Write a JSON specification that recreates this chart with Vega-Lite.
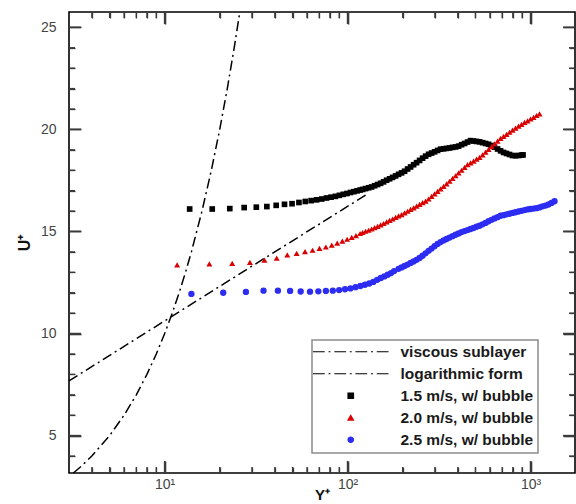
{
  "$schema": "https://vega.github.io/schema/vega-lite/v6.json",
  "width": 506,
  "height": 461,
  "autosize": {"type": "none"},
  "padding": {"left": 69, "top": 12, "right": 1, "bottom": 31},
  "background": "white",
  "config": {
    "view": {"stroke": "#000", "strokeWidth": 1.6},
    "font": "Liberation Sans",
    "axis": {"labelFont": "Liberation Sans", "labelFontSize": 14, "labelColor": "#444", "titleFont": "Liberation Sans", "titleFontWeight": "bold", "titleColor": "#111", "grid": false, "domain": false}
  },
  "datasets": {
    "viscous": [
      {"Yplus": 3.17, "Uplus": 3.17}, {"Yplus": 3.5, "Uplus": 3.5}, {"Yplus": 4, "Uplus": 4}, {"Yplus": 5, "Uplus": 5},
      {"Yplus": 6, "Uplus": 6}, {"Yplus": 7, "Uplus": 7}, {"Yplus": 8, "Uplus": 8}, {"Yplus": 9, "Uplus": 9},
      {"Yplus": 10, "Uplus": 10}, {"Yplus": 11, "Uplus": 11}, {"Yplus": 12, "Uplus": 12}, {"Yplus": 13, "Uplus": 13},
      {"Yplus": 14, "Uplus": 14}, {"Yplus": 16, "Uplus": 16}, {"Yplus": 18, "Uplus": 18}, {"Yplus": 20, "Uplus": 20},
      {"Yplus": 22, "Uplus": 22}, {"Yplus": 24, "Uplus": 24}, {"Yplus": 25.7, "Uplus": 25.7}
    ],
    "loglaw": [
      {"Yplus": 3, "Uplus": 7.68}, {"Yplus": 10, "Uplus": 10.62}, {"Yplus": 30, "Uplus": 13.30}, {"Yplus": 128, "Uplus": 16.83}
    ],
    "xMajor": [{"v": 10}, {"v": 100}, {"v": 1000}],
    "xMinor": [{"v": 4}, {"v": 5}, {"v": 6}, {"v": 7}, {"v": 8}, {"v": 9},
               {"v": 20}, {"v": 30}, {"v": 40}, {"v": 50}, {"v": 60}, {"v": 70}, {"v": 80}, {"v": 90},
               {"v": 200}, {"v": 300}, {"v": 400}, {"v": 500}, {"v": 600}, {"v": 700}, {"v": 800}, {"v": 900}],
    "yMajor": [{"v": 5}, {"v": 10}, {"v": 15}, {"v": 20}, {"v": 25}],
    "yMinor": [{"v": 4}, {"v": 6}, {"v": 7}, {"v": 8}, {"v": 9}, {"v": 11}, {"v": 12}, {"v": 13}, {"v": 14},
               {"v": 16}, {"v": 17}, {"v": 18}, {"v": 19}, {"v": 21}, {"v": 22}, {"v": 23}, {"v": 24}],
    "s15": [
      {"Yplus": 13.7, "Uplus": 16.10}, {"Yplus": 18.2, "Uplus": 16.10}, {"Yplus": 22.7, "Uplus": 16.12}, {"Yplus": 27.2, "Uplus": 16.17},
      {"Yplus": 31.7, "Uplus": 16.19}, {"Yplus": 36.2, "Uplus": 16.22}, {"Yplus": 40.7, "Uplus": 16.28}, {"Yplus": 45.2, "Uplus": 16.33},
      {"Yplus": 49.7, "Uplus": 16.36}, {"Yplus": 54.2, "Uplus": 16.42}, {"Yplus": 58.7, "Uplus": 16.47}, {"Yplus": 63.2, "Uplus": 16.51},
      {"Yplus": 67.7, "Uplus": 16.55}, {"Yplus": 72.2, "Uplus": 16.59}, {"Yplus": 76.7, "Uplus": 16.64}, {"Yplus": 81.2, "Uplus": 16.68},
      {"Yplus": 85.7, "Uplus": 16.72}, {"Yplus": 90.2, "Uplus": 16.77}, {"Yplus": 94.7, "Uplus": 16.82}, {"Yplus": 99.2, "Uplus": 16.86},
      {"Yplus": 103.7, "Uplus": 16.91}, {"Yplus": 108.2, "Uplus": 16.95}, {"Yplus": 112.7, "Uplus": 16.99}, {"Yplus": 117.2, "Uplus": 17.03},
      {"Yplus": 120.8, "Uplus": 17.06}, {"Yplus": 125.4, "Uplus": 17.10}, {"Yplus": 130.3, "Uplus": 17.14}, {"Yplus": 135.3, "Uplus": 17.18},
      {"Yplus": 140.5, "Uplus": 17.24}, {"Yplus": 145.9, "Uplus": 17.30}, {"Yplus": 151.5, "Uplus": 17.36}, {"Yplus": 157.3, "Uplus": 17.43},
      {"Yplus": 163.4, "Uplus": 17.51}, {"Yplus": 169.7, "Uplus": 17.58}, {"Yplus": 176.2, "Uplus": 17.65}, {"Yplus": 183.0, "Uplus": 17.72},
      {"Yplus": 190.0, "Uplus": 17.80}, {"Yplus": 197.3, "Uplus": 17.87}, {"Yplus": 204.9, "Uplus": 17.95}, {"Yplus": 212.8, "Uplus": 18.06},
      {"Yplus": 221.0, "Uplus": 18.16}, {"Yplus": 229.5, "Uplus": 18.27}, {"Yplus": 238.3, "Uplus": 18.37}, {"Yplus": 247.5, "Uplus": 18.48},
      {"Yplus": 257.0, "Uplus": 18.59}, {"Yplus": 266.9, "Uplus": 18.69}, {"Yplus": 277.2, "Uplus": 18.78}, {"Yplus": 287.8, "Uplus": 18.84},
      {"Yplus": 298.9, "Uplus": 18.90}, {"Yplus": 310.4, "Uplus": 18.97}, {"Yplus": 322.3, "Uplus": 19.03}, {"Yplus": 334.7, "Uplus": 19.05},
      {"Yplus": 347.6, "Uplus": 19.07}, {"Yplus": 361.0, "Uplus": 19.09}, {"Yplus": 374.9, "Uplus": 19.12}, {"Yplus": 389.3, "Uplus": 19.14},
      {"Yplus": 404.3, "Uplus": 19.18}, {"Yplus": 419.8, "Uplus": 19.25}, {"Yplus": 436.0, "Uplus": 19.31}, {"Yplus": 452.7, "Uplus": 19.38},
      {"Yplus": 470.1, "Uplus": 19.45}, {"Yplus": 488.2, "Uplus": 19.43}, {"Yplus": 507.0, "Uplus": 19.41}, {"Yplus": 526.5, "Uplus": 19.39},
      {"Yplus": 546.8, "Uplus": 19.35}, {"Yplus": 567.8, "Uplus": 19.31}, {"Yplus": 589.6, "Uplus": 19.27}, {"Yplus": 612.3, "Uplus": 19.21},
      {"Yplus": 635.8, "Uplus": 19.13}, {"Yplus": 660.3, "Uplus": 19.04}, {"Yplus": 685.7, "Uplus": 18.95}, {"Yplus": 712.0, "Uplus": 18.87},
      {"Yplus": 739.4, "Uplus": 18.82}, {"Yplus": 767.8, "Uplus": 18.77}, {"Yplus": 797.4, "Uplus": 18.72}, {"Yplus": 828.0, "Uplus": 18.71},
      {"Yplus": 859.9, "Uplus": 18.72}, {"Yplus": 892.9, "Uplus": 18.74}, {"Yplus": 910.0, "Uplus": 18.75}
    ],
    "s20": [
      {"Yplus": 11.7, "Uplus": 13.36}, {"Yplus": 17.55, "Uplus": 13.41}, {"Yplus": 23.4, "Uplus": 13.44}, {"Yplus": 29.25, "Uplus": 13.49},
      {"Yplus": 35.1, "Uplus": 13.60}, {"Yplus": 40.95, "Uplus": 13.69}, {"Yplus": 46.8, "Uplus": 13.85}, {"Yplus": 52.65, "Uplus": 13.93},
      {"Yplus": 58.5, "Uplus": 14.01}, {"Yplus": 64.35, "Uplus": 14.08}, {"Yplus": 70.2, "Uplus": 14.17}, {"Yplus": 76.05, "Uplus": 14.24},
      {"Yplus": 81.9, "Uplus": 14.33}, {"Yplus": 87.75, "Uplus": 14.43}, {"Yplus": 93.6, "Uplus": 14.53}, {"Yplus": 99.45, "Uplus": 14.62},
      {"Yplus": 105.3, "Uplus": 14.71}, {"Yplus": 111.15, "Uplus": 14.80}, {"Yplus": 117.0, "Uplus": 14.90},
      {"Yplus": 120.8, "Uplus": 14.95}, {"Yplus": 125.4, "Uplus": 15.01}, {"Yplus": 130.3, "Uplus": 15.06}, {"Yplus": 135.3, "Uplus": 15.12},
      {"Yplus": 140.5, "Uplus": 15.19}, {"Yplus": 145.9, "Uplus": 15.25}, {"Yplus": 151.5, "Uplus": 15.32}, {"Yplus": 157.3, "Uplus": 15.39},
      {"Yplus": 163.4, "Uplus": 15.47}, {"Yplus": 169.7, "Uplus": 15.54}, {"Yplus": 176.2, "Uplus": 15.61}, {"Yplus": 183.0, "Uplus": 15.69},
      {"Yplus": 190.0, "Uplus": 15.76}, {"Yplus": 197.3, "Uplus": 15.83}, {"Yplus": 204.9, "Uplus": 15.91}, {"Yplus": 212.8, "Uplus": 15.99},
      {"Yplus": 221.0, "Uplus": 16.08}, {"Yplus": 229.5, "Uplus": 16.16}, {"Yplus": 238.3, "Uplus": 16.24}, {"Yplus": 247.5, "Uplus": 16.33},
      {"Yplus": 257.0, "Uplus": 16.41}, {"Yplus": 266.9, "Uplus": 16.49}, {"Yplus": 277.2, "Uplus": 16.59}, {"Yplus": 287.8, "Uplus": 16.72},
      {"Yplus": 298.9, "Uplus": 16.84}, {"Yplus": 310.4, "Uplus": 16.96}, {"Yplus": 322.3, "Uplus": 17.09}, {"Yplus": 334.7, "Uplus": 17.21},
      {"Yplus": 347.6, "Uplus": 17.33}, {"Yplus": 361.0, "Uplus": 17.46}, {"Yplus": 374.9, "Uplus": 17.60}, {"Yplus": 389.3, "Uplus": 17.73},
      {"Yplus": 404.3, "Uplus": 17.87}, {"Yplus": 419.8, "Uplus": 18.00}, {"Yplus": 436.0, "Uplus": 18.14}, {"Yplus": 452.7, "Uplus": 18.27},
      {"Yplus": 470.1, "Uplus": 18.36}, {"Yplus": 488.2, "Uplus": 18.45}, {"Yplus": 507.0, "Uplus": 18.54}, {"Yplus": 526.5, "Uplus": 18.63},
      {"Yplus": 546.8, "Uplus": 18.75}, {"Yplus": 567.8, "Uplus": 18.89}, {"Yplus": 589.6, "Uplus": 19.02}, {"Yplus": 612.3, "Uplus": 19.16},
      {"Yplus": 635.8, "Uplus": 19.29}, {"Yplus": 660.3, "Uplus": 19.43}, {"Yplus": 685.7, "Uplus": 19.56}, {"Yplus": 712.0, "Uplus": 19.66},
      {"Yplus": 739.4, "Uplus": 19.76}, {"Yplus": 767.8, "Uplus": 19.86}, {"Yplus": 797.4, "Uplus": 19.96}, {"Yplus": 828.0, "Uplus": 20.06},
      {"Yplus": 859.9, "Uplus": 20.16}, {"Yplus": 892.9, "Uplus": 20.25}, {"Yplus": 927.3, "Uplus": 20.34}, {"Yplus": 962.9, "Uplus": 20.42},
      {"Yplus": 999.9, "Uplus": 20.51}, {"Yplus": 1038.4, "Uplus": 20.59}, {"Yplus": 1078.3, "Uplus": 20.68}, {"Yplus": 1119.8, "Uplus": 20.76}
    ],
    "s25": [
      {"Yplus": 14.0, "Uplus": 11.94}, {"Yplus": 20.9, "Uplus": 12.00}, {"Yplus": 27.8, "Uplus": 12.04}, {"Yplus": 34.7, "Uplus": 12.10},
      {"Yplus": 41.6, "Uplus": 12.10}, {"Yplus": 48.5, "Uplus": 12.09}, {"Yplus": 55.4, "Uplus": 12.06}, {"Yplus": 62.3, "Uplus": 12.05},
      {"Yplus": 69.2, "Uplus": 12.07}, {"Yplus": 76.1, "Uplus": 12.09}, {"Yplus": 83.0, "Uplus": 12.10}, {"Yplus": 89.9, "Uplus": 12.13},
      {"Yplus": 96.8, "Uplus": 12.17}, {"Yplus": 103.7, "Uplus": 12.21}, {"Yplus": 110.6, "Uplus": 12.27}, {"Yplus": 117.5, "Uplus": 12.33},
      {"Yplus": 124.4, "Uplus": 12.39}, {"Yplus": 131.3, "Uplus": 12.45}, {"Yplus": 138.2, "Uplus": 12.53}, {"Yplus": 145.1, "Uplus": 12.63},
      {"Yplus": 152.0, "Uplus": 12.72}, {"Yplus": 158.9, "Uplus": 12.80}, {"Yplus": 165.8, "Uplus": 12.88}, {"Yplus": 172.7, "Uplus": 12.96},
      {"Yplus": 179.6, "Uplus": 13.06}, {"Yplus": 190.0, "Uplus": 13.17}, {"Yplus": 197.3, "Uplus": 13.24}, {"Yplus": 204.9, "Uplus": 13.31},
      {"Yplus": 212.8, "Uplus": 13.38}, {"Yplus": 221.0, "Uplus": 13.46}, {"Yplus": 229.5, "Uplus": 13.53}, {"Yplus": 238.3, "Uplus": 13.61},
      {"Yplus": 247.5, "Uplus": 13.70}, {"Yplus": 257.0, "Uplus": 13.81}, {"Yplus": 266.9, "Uplus": 13.93}, {"Yplus": 277.2, "Uplus": 14.05},
      {"Yplus": 287.8, "Uplus": 14.16}, {"Yplus": 298.9, "Uplus": 14.28}, {"Yplus": 310.4, "Uplus": 14.39}, {"Yplus": 322.3, "Uplus": 14.48},
      {"Yplus": 334.7, "Uplus": 14.56}, {"Yplus": 347.6, "Uplus": 14.63}, {"Yplus": 361.0, "Uplus": 14.70}, {"Yplus": 374.9, "Uplus": 14.77},
      {"Yplus": 389.3, "Uplus": 14.84}, {"Yplus": 404.3, "Uplus": 14.90}, {"Yplus": 419.8, "Uplus": 14.97}, {"Yplus": 436.0, "Uplus": 15.02},
      {"Yplus": 452.7, "Uplus": 15.07}, {"Yplus": 470.1, "Uplus": 15.12}, {"Yplus": 488.2, "Uplus": 15.17}, {"Yplus": 507.0, "Uplus": 15.23},
      {"Yplus": 526.5, "Uplus": 15.28}, {"Yplus": 546.8, "Uplus": 15.35}, {"Yplus": 567.8, "Uplus": 15.42}, {"Yplus": 589.6, "Uplus": 15.50},
      {"Yplus": 612.3, "Uplus": 15.57}, {"Yplus": 635.8, "Uplus": 15.64}, {"Yplus": 660.3, "Uplus": 15.70}, {"Yplus": 685.7, "Uplus": 15.77},
      {"Yplus": 712.0, "Uplus": 15.80}, {"Yplus": 739.4, "Uplus": 15.84}, {"Yplus": 767.8, "Uplus": 15.87}, {"Yplus": 797.4, "Uplus": 15.91},
      {"Yplus": 828.0, "Uplus": 15.94}, {"Yplus": 859.9, "Uplus": 15.98}, {"Yplus": 892.9, "Uplus": 16.01}, {"Yplus": 927.3, "Uplus": 16.05},
      {"Yplus": 962.9, "Uplus": 16.08}, {"Yplus": 999.9, "Uplus": 16.10}, {"Yplus": 1038.4, "Uplus": 16.12}, {"Yplus": 1078.3, "Uplus": 16.14},
      {"Yplus": 1119.8, "Uplus": 16.18}, {"Yplus": 1162.9, "Uplus": 16.23}, {"Yplus": 1207.6, "Uplus": 16.27}, {"Yplus": 1254.1, "Uplus": 16.32},
      {"Yplus": 1302.3, "Uplus": 16.40}, {"Yplus": 1352.4, "Uplus": 16.48}
    ]
  },
  "layer": [
    {
      "data": {"name": "loglaw"},
      "mark": {"type": "line", "strokeDash": [10, 4, 2, 4], "strokeWidth": 1.5},
      "encoding": {
        "x": {"field": "Yplus", "type": "quantitative", "scale": {"type": "log", "domain": [3, 1750], "nice": false},
          "axis": {"orient": "bottom", "values": [10, 100, 1000], "offset": -12, "ticks": true, "tickSize": 12, "tickWidth": 1.6, "tickColor": "#3a3a3a",
            "labelExpr": "datum.value == 10 ? '10¹' : datum.value == 100 ? '10²' : '10³'",
            "labelPadding": 4, "title": "Y⁺", "titleFontSize": 15, "titlePadding": -4}},
        "y": {"field": "Uplus", "type": "quantitative", "scale": {"domain": [3.17, 25.75], "nice": false, "zero": false},
          "axis": {"orient": "left", "values": [5, 10, 15, 20, 25], "offset": -12, "ticks": true, "tickSize": 12, "tickWidth": 1.6, "tickColor": "#3a3a3a",
            "labelPadding": 13, "title": "U⁺", "titleFontSize": 16, "titlePadding": 8}},
        "color": {"datum": "logarithmic form", "type": "nominal",
          "scale": {"domain": ["viscous sublayer", "logarithmic form", "1.5 m/s, w/ bubble", "2.0 m/s, w/ bubble", "2.5 m/s, w/ bubble"],
                    "range": ["#000000", "#000000", "#000000", "#d80000", "#2c2cf2"]},
          "legend": {"orient": "none", "legendX": 243, "legendY": 328, "title": null, "padding": 4,
            "strokeColor": "#8c8c8c", "fillColor": "white",
            "labelFont": "Liberation Sans", "labelFontSize": 15.5, "labelFontWeight": "bold", "labelColor": "#1a1a1a",
            "symbolSize": 30, "symbolOffset": 27, "labelOffset": 42, "rowPadding": 5,
            "encode": {
              "symbols": {"update": {"fill": {"scale": "color", "field": "value"}, "stroke": {"scale": "color", "field": "value"},
                                     "shape": {"scale": "shape", "field": "value"}, "strokeWidth": {"value": 1.2}, "opacity": {"value": 1}}},
              "legend": {"update": {"strokeWidth": {"value": 1.5}}}}}}
      }
    },
    {
      "data": {"name": "viscous"},
      "mark": {"type": "line", "strokeDash": [10, 4, 2, 4], "strokeWidth": 1.5},
      "encoding": {
        "x": {"field": "Yplus", "type": "quantitative", "scale": {"type": "log", "domain": [3, 1750], "nice": false},
          "axis": {"orient": "top", "values": [10, 100, 1000], "offset": -12, "ticks": true, "tickSize": 12, "tickWidth": 1.6, "tickColor": "#3a3a3a", "labels": false, "title": null}},
        "y": {"field": "Uplus", "type": "quantitative", "scale": {"domain": [3.17, 25.75], "nice": false, "zero": false},
          "axis": {"orient": "right", "values": [5, 10, 15, 20, 25], "offset": -12, "ticks": true, "tickSize": 12, "tickWidth": 1.6, "tickColor": "#3a3a3a", "labels": false, "title": null}},
        "color": {"datum": "viscous sublayer", "type": "nominal"}
      }
    },
    {
      "data": {"name": "s15"},
      "mark": {"type": "point", "filled": true, "size": 32, "opacity": 1},
      "encoding": {
        "x": {"field": "Yplus", "type": "quantitative", "scale": {"type": "log", "domain": [3, 1750], "nice": false},
          "axis": {"orient": "bottom", "values": [4,5,6,7,8,9,20,30,40,50,60,70,80,90,200,300,400,500,600,700,800,900], "offset": -6,
            "labels": false, "title": null, "ticks": true, "tickSize": 6, "tickWidth": 1.3, "tickColor": "#3a3a3a"}},
        "y": {"field": "Uplus", "type": "quantitative", "scale": {"domain": [3.17, 25.75], "nice": false, "zero": false},
          "axis": {"orient": "left", "values": [4,6,7,8,9,11,12,13,14,16,17,18,19,21,22,23,24], "offset": -6,
            "labels": false, "title": null, "ticks": true, "tickSize": 6, "tickWidth": 1.3, "tickColor": "#3a3a3a"}},
        "color": {"datum": "1.5 m/s, w/ bubble", "type": "nominal"},
        "shape": {"datum": "1.5 m/s, w/ bubble", "type": "nominal",
          "scale": {"domain": ["viscous sublayer", "logarithmic form", "1.5 m/s, w/ bubble", "2.0 m/s, w/ bubble", "2.5 m/s, w/ bubble"],
                    "range": ["M-13.8,0H-9.5M-8.1,0H-7.4M-6,0H-1.7M-0.35,0H0.35M1.7,0H6M7.4,0H8.1M9.5,0H13.8",
                              "M-13.8,0H-9.5M-8.1,0H-7.4M-6,0H-1.7M-0.35,0H0.35M1.7,0H6M7.4,0H8.1M9.5,0H13.8",
                              "square", "triangle-up", "circle"]},
          "legend": {"orient": "none", "legendX": 243, "legendY": 328, "title": null, "padding": 4,
            "strokeColor": "#8c8c8c", "fillColor": "white",
            "labelFont": "Liberation Sans", "labelFontSize": 15.5, "labelFontWeight": "bold", "labelColor": "#1a1a1a",
            "symbolSize": 30, "symbolOffset": 27, "labelOffset": 42, "rowPadding": 5}}
      }
    },
    {
      "data": {"name": "s20"},
      "mark": {"type": "point", "filled": true, "size": 36, "opacity": 1},
      "encoding": {
        "x": {"field": "Yplus", "type": "quantitative", "scale": {"type": "log", "domain": [3, 1750], "nice": false},
          "axis": {"orient": "top", "values": [4,5,6,7,8,9,20,30,40,50,60,70,80,90,200,300,400,500,600,700,800,900], "offset": -6,
            "labels": false, "title": null, "ticks": true, "tickSize": 6, "tickWidth": 1.3, "tickColor": "#3a3a3a"}},
        "y": {"field": "Uplus", "type": "quantitative", "scale": {"domain": [3.17, 25.75], "nice": false, "zero": false},
          "axis": {"orient": "right", "values": [4,6,7,8,9,11,12,13,14,16,17,18,19,21,22,23,24], "offset": -6,
            "labels": false, "title": null, "ticks": true, "tickSize": 6, "tickWidth": 1.3, "tickColor": "#3a3a3a"}},
        "color": {"datum": "2.0 m/s, w/ bubble", "type": "nominal"},
        "shape": {"datum": "2.0 m/s, w/ bubble", "type": "nominal"}
      }
    },
    {
      "data": {"name": "s25"},
      "mark": {"type": "point", "filled": true, "size": 40, "opacity": 1},
      "encoding": {
        "x": {"field": "Yplus", "type": "quantitative", "scale": {"type": "log", "domain": [3, 1750], "nice": false}, "axis": null},
        "y": {"field": "Uplus", "type": "quantitative", "scale": {"domain": [3.17, 25.75], "nice": false, "zero": false}, "axis": null},
        "color": {"datum": "2.5 m/s, w/ bubble", "type": "nominal"},
        "shape": {"datum": "2.5 m/s, w/ bubble", "type": "nominal"}
      }
    },
    {
      "data": {"name": "xMajor"},
      "mark": {"type": "tick", "orient": "vertical", "size": 12, "thickness": 1.6, "color": "#3a3a3a", "opacity": 1, "yOffset": -6},
      "encoding": {
        "x": {"field": "v", "type": "quantitative", "scale": {"type": "log", "domain": [3, 1750], "nice": false}, "axis": null},
        "y": {"datum": 3.17, "type": "quantitative", "scale": {"domain": [3.17, 25.75], "nice": false, "zero": false}, "axis": null}
      }
    },
    {
      "data": {"name": "xMinor"},
      "mark": {"type": "tick", "orient": "vertical", "size": 6, "thickness": 1.3, "color": "#3a3a3a", "opacity": 1, "yOffset": -3},
      "encoding": {
        "x": {"field": "v", "type": "quantitative", "scale": {"type": "log", "domain": [3, 1750], "nice": false}, "axis": null},
        "y": {"datum": 3.17, "type": "quantitative", "scale": {"domain": [3.17, 25.75], "nice": false, "zero": false}, "axis": null}
      }
    },
    {
      "data": {"name": "xMajor"},
      "mark": {"type": "tick", "orient": "vertical", "size": 12, "thickness": 1.6, "color": "#3a3a3a", "opacity": 1, "yOffset": 6},
      "encoding": {
        "x": {"field": "v", "type": "quantitative", "scale": {"type": "log", "domain": [3, 1750], "nice": false}, "axis": null},
        "y": {"datum": 25.75, "type": "quantitative", "scale": {"domain": [3.17, 25.75], "nice": false, "zero": false}, "axis": null}
      }
    },
    {
      "data": {"name": "xMinor"},
      "mark": {"type": "tick", "orient": "vertical", "size": 6, "thickness": 1.3, "color": "#3a3a3a", "opacity": 1, "yOffset": 3},
      "encoding": {
        "x": {"field": "v", "type": "quantitative", "scale": {"type": "log", "domain": [3, 1750], "nice": false}, "axis": null},
        "y": {"datum": 25.75, "type": "quantitative", "scale": {"domain": [3.17, 25.75], "nice": false, "zero": false}, "axis": null}
      }
    },
    {
      "data": {"name": "yMajor"},
      "mark": {"type": "tick", "orient": "horizontal", "size": 12, "thickness": 1.6, "color": "#3a3a3a", "opacity": 1, "xOffset": 6},
      "encoding": {
        "y": {"field": "v", "type": "quantitative", "scale": {"domain": [3.17, 25.75], "nice": false, "zero": false}, "axis": null},
        "x": {"datum": 3, "type": "quantitative", "scale": {"type": "log", "domain": [3, 1750], "nice": false}, "axis": null}
      }
    },
    {
      "data": {"name": "yMinor"},
      "mark": {"type": "tick", "orient": "horizontal", "size": 6, "thickness": 1.3, "color": "#3a3a3a", "opacity": 1, "xOffset": 3},
      "encoding": {
        "y": {"field": "v", "type": "quantitative", "scale": {"domain": [3.17, 25.75], "nice": false, "zero": false}, "axis": null},
        "x": {"datum": 3, "type": "quantitative", "scale": {"type": "log", "domain": [3, 1750], "nice": false}, "axis": null}
      }
    },
    {
      "data": {"name": "yMajor"},
      "mark": {"type": "tick", "orient": "horizontal", "size": 12, "thickness": 1.6, "color": "#3a3a3a", "opacity": 1, "xOffset": -6},
      "encoding": {
        "y": {"field": "v", "type": "quantitative", "scale": {"domain": [3.17, 25.75], "nice": false, "zero": false}, "axis": null},
        "x": {"datum": 1750, "type": "quantitative", "scale": {"type": "log", "domain": [3, 1750], "nice": false}, "axis": null}
      }
    },
    {
      "data": {"name": "yMinor"},
      "mark": {"type": "tick", "orient": "horizontal", "size": 6, "thickness": 1.3, "color": "#3a3a3a", "opacity": 1, "xOffset": -3},
      "encoding": {
        "y": {"field": "v", "type": "quantitative", "scale": {"domain": [3.17, 25.75], "nice": false, "zero": false}, "axis": null},
        "x": {"datum": 1750, "type": "quantitative", "scale": {"type": "log", "domain": [3, 1750], "nice": false}, "axis": null}
      }
    }
  ],
  "resolve": {"axis": {"x": "independent", "y": "independent"}}
}
